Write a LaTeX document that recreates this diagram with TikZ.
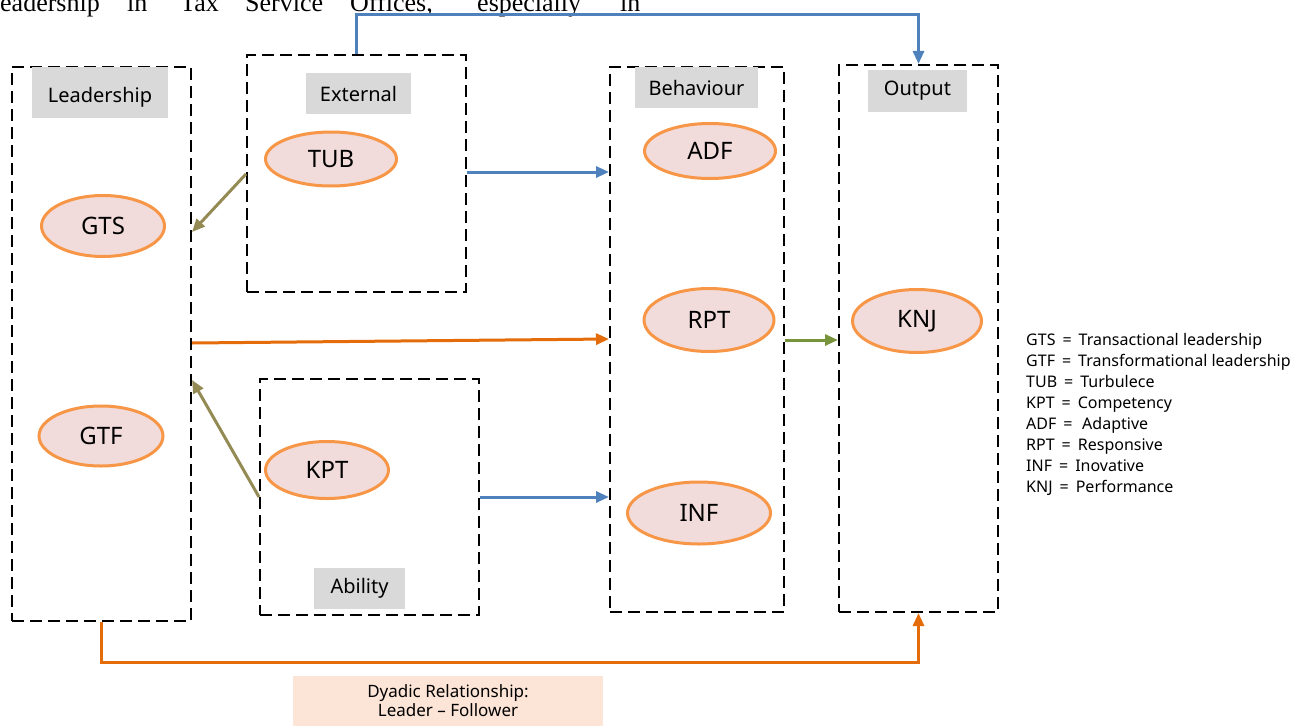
\documentclass[tikz,border=0pt]{standalone}
\usepackage{fontspec}
\setmainfont{Noto Sans}
\newfontfamily\tnr{Liberation Serif}
\usetikzlibrary{shapes.geometric,arrows.meta}
\definecolor{ellfill}{HTML}{F2DCDB}
\definecolor{ellline}{HTML}{F79646}
\definecolor{lblgray}{HTML}{D9D9D9}
\definecolor{cblue}{HTML}{4F81BD}
\definecolor{colive}{HTML}{948A54}
\definecolor{corange}{HTML}{E46C0A}
\definecolor{cgreen}{HTML}{77933C}
\definecolor{peach}{HTML}{FCE4D6}
\newcommand{\eqs}{\hspace{7pt}=\hspace{7pt}}
\tikzset{
  dbox/.style={draw=black, line width=2pt, dash pattern=on 12pt off 6pt, rectangle, anchor=north west, inner sep=0pt},
  lbl/.style={fill=lblgray, rectangle, inner sep=0pt, font=\fontsize{20}{24}\selectfont},
  ell/.style={ellipse, draw=ellline, fill=ellfill, line width=3pt, inner sep=0pt, font=\fontsize{24}{28}\selectfont},
  arr/.style={line width=3pt, -{Triangle[length=13pt,width=11pt]}},
  bluearr/.style={arr, draw=cblue},
  olivearr/.style={arr, draw=colive},
  orangearr/.style={arr, draw=corange},
  greenarr/.style={arr, draw=cgreen},
  topword/.style={anchor=base west, inner sep=0pt, font=\tnr\fontsize{26}{30}\selectfont},
}
\begin{document}
\begin{tikzpicture}[x=1pt, y=-1pt]
\useasboundingbox (0,0) rectangle (1297,725);
\clip (0,0) rectangle (1297,725);
% top cut-off text line
\node[topword] (t1) at (0,12) {eadership};
\node[topword] (t2) at (127,12) {in};
\node[topword] (t3) at (180,12) {Tax};
\node[topword] (t4) at (245,12) {Service};
\node[topword] (t5) at (350,12) {Offices,};
\node[topword] (t6) at (477,12) {especially};
\node[topword] (t7) at (620,12) {in};
% dashed boxes
\node[dbox, minimum width=179pt, minimum height=554pt] (lead) at (11,66) {};
\node[dbox, minimum width=219pt, minimum height=237pt] (ext) at (246,54) {};
\node[dbox, minimum width=219pt, minimum height=236pt] (abil) at (259,378) {};
\node[dbox, minimum width=174pt, minimum height=545pt] (beh) at (609,66) {};
\node[dbox, minimum width=159pt, minimum height=547pt] (out) at (838,64) {};
% gray labels
\node[lbl, minimum width=136pt, minimum height=51pt] (lleader) at (100,92) {\raisebox{-5pt}[\height][\depth]{Leadership}};
\node[lbl, minimum width=105pt, minimum height=41pt] (lext) at (358.5,93.5) {External};
\node[lbl, minimum width=91pt, minimum height=41pt] (labil) at (359.5,588.5) {Ability};
\node[lbl, minimum width=123pt, minimum height=41pt] (lbeh) at (696.5,87.5) {Behaviour};
\node[lbl, minimum width=99pt, minimum height=42pt] (lout) at (917.5,91) {Output};
% ellipses
\node[ell, minimum width=123pt, minimum height=61pt] (gts) at (103,226) {GTS};
\node[ell, minimum width=124pt, minimum height=60pt] (gtf) at (101,436) {GTF};
\node[ell, minimum width=131pt, minimum height=54pt] (tub) at (331,159) {TUB};
\node[ell, minimum width=123pt, minimum height=57pt] (kpt) at (327,470) {KPT};
\node[ell, minimum width=131pt, minimum height=55pt] (adf) at (710,151) {ADF};
\node[ell, minimum width=130pt, minimum height=63pt] (rpt) at (709,320) {RPT};
\node[ell, minimum width=143pt, minimum height=62pt] (inf) at (699,513) {INF};
\node[ell, minimum width=129pt, minimum height=63pt] (knj) at (917,321) {KNJ};
% legend
\node[anchor=north west, align=left, inner sep=0pt, font=\fontsize{16}{21}\selectfont] (legend) at (1026,333) {%
GTS\eqs Transactional leadership\\
GTF\eqs Transformational leadership\\
TUB\eqs Turbulece\\
KPT\eqs Competency\\
ADF\eqs\,Adaptive\\
RPT\eqs Responsive\\
INF\eqs Inovative\\
KNJ\eqs Performance};
% dyadic box
\node[fill=peach, minimum width=310pt, minimum height=51pt, inner sep=0pt, align=center, font=\fontsize{17}{19}\selectfont] (dyad) at (448,701) {Dyadic Relationship:\\Leader -- Follower};
% connectors
\draw[bluearr] (ext.north) -- ++(0,-39) -| (out.north);
\draw[bluearr] (ext.east |- 0,172) -- (beh.west |- 0,172);
\draw[bluearr] (abil.east |- 0,497) -- (beh.west |- 0,497);
\draw[olivearr] (ext.west |- 0,174) -- (lead.east |- 0,232);
\draw[olivearr] (abil.west |- 0,497) -- (lead.east |- 0,380);
\draw[orangearr] (lead.east |- 0,343) -- (beh.west |- 0,339);
\draw[greenarr] (beh.east |- 0,340) -- (out.west |- 0,340);
\draw[orangearr] (lead.south) -- ++(0,40) -| (out.south);
\end{tikzpicture}
\end{document}
